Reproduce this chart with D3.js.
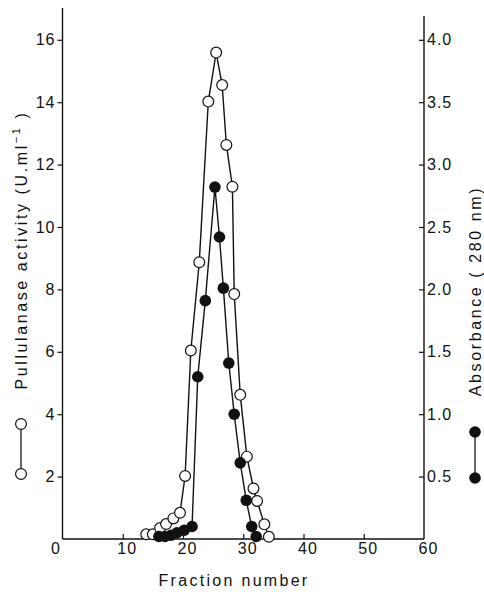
<!DOCTYPE html>
<html>
<head>
<meta charset="utf-8">
<script src="https://cdn.jsdelivr.net/npm/d3@7"></script>
<style>
  html, body { margin: 0; padding: 0; background: #fff; }
  svg { display: block; font-family: "Liberation Sans", Arial, sans-serif; }
</style>
</head>
<body>
<div id="chart"></div>
<script>
// ---- Data ----
const pullFraction = [13.9, 15.0, 16.2, 17.2, 18.4, 19.5, 20.35, 21.3, 22.7, 24.2, 25.5, 26.5, 27.2, 28.2, 28.5, 29.5, 30.6, 31.7, 32.3, 33.5, 34.25];
const pullActivity = [0.15, 0.15, 0.35, 0.48, 0.66, 0.84, 2.02, 6.04, 8.87, 14.02, 15.59, 14.55, 12.63, 11.29, 7.85, 4.62, 2.64, 1.62, 1.22, 0.47, 0.07];

const absFraction = [16.0, 17.0, 18.0, 19.0, 20.2, 21.5, 22.45, 23.7, 25.3, 26.05, 26.7, 27.6, 28.5, 29.5, 30.5, 31.4, 32.15];
const absorbance  = [0.02, 0.02, 0.03, 0.05, 0.07, 0.10, 1.30, 1.91, 2.82, 2.42, 2.01, 1.41, 1.00, 0.61, 0.31, 0.10, 0.02];

const xTicks = [0, 10, 20, 30, 40, 50, 60];
const leftTicks = [2, 4, 6, 8, 10, 12, 14, 16];
const rightTicks = [0.5, 1.0, 1.5, 2.0, 2.5, 3.0, 3.5, 4.0];

const xTitle = "Fraction number";
const leftTitle = "Pullulanase activity (U.ml";
const leftTitleSup = "\u22121";
const leftTitleEnd = " )";
const rightTitle = "Absorbance ( 280 nm)";

// ---- Layout ----
const W = 484, H = 592;
const svg = d3.select("#chart").append("svg").attr("width", W).attr("height", H);
svg.append("rect").attr("width", W).attr("height", H).attr("fill", "#fff");

const x = d3.scaleLinear().domain([0, 60]).range([62.5, 424]);
const yL = d3.scaleLinear().domain([0, 16]).range([539, 39.8]);
const yR = d3.scaleLinear().domain([0, 4]).range([539, 39.8]);

const ink = "#111";
const fontSize = 16;

// Axis lines
svg.append("line").attr("x1", x(0)).attr("x2", x(60)).attr("y1", yL(0)).attr("y2", yL(0))
  .attr("stroke", ink).attr("stroke-width", 1.4);
svg.append("line").attr("x1", x(0)).attr("x2", x(0)).attr("y1", yL(0)).attr("y2", 8)
  .attr("stroke", ink).attr("stroke-width", 1.4);
svg.append("line").attr("x1", x(60)).attr("x2", x(60)).attr("y1", yL(0)).attr("y2", 16)
  .attr("stroke", ink).attr("stroke-width", 1.4);

function styleAxis(g) {
  g.select(".domain").remove();
  g.selectAll(".tick line").attr("stroke", ink).attr("stroke-width", 1.2);
  g.selectAll(".tick text").attr("fill", ink).attr("font-size", fontSize)
    .attr("letter-spacing", "1px")
    .attr("font-family", "Liberation Sans, Arial, sans-serif");
}

// Bottom axis (ticks point inward)
const gx = svg.append("g").attr("transform", `translate(0,${yL(0)})`)
  .call(d3.axisBottom(x).tickValues(xTicks).tickSize(-5).tickSizeOuter(0).tickPadding(4).tickFormat(d3.format("d")));
styleAxis(gx);
gx.selectAll(".tick text").attr("dx", d => d === 0 ? -7 : 4);
gx.selectAll(".tick").filter(d => d === 0 || d === 60).select("line").remove();

// Left axis (ticks outward)
const gl = svg.append("g").attr("transform", `translate(${x(0)},0)`)
  .call(d3.axisLeft(yL).tickValues(leftTicks).tickSize(5).tickSizeOuter(0).tickPadding(2).tickFormat(d3.format("d")));
styleAxis(gl);

// Right axis (ticks inward)
const gr = svg.append("g").attr("transform", `translate(${x(60)},0)`)
  .call(d3.axisRight(yR).tickValues(rightTicks).tickSize(-5).tickSizeOuter(0).tickPadding(3).tickFormat(d3.format(".1f")));
styleAxis(gr);

// Titles
svg.append("text").attr("x", 234).attr("y", 586).attr("text-anchor", "middle")
  .attr("font-size", fontSize).attr("letter-spacing", "2.3px").attr("fill", ink).text(xTitle);

const lt = svg.append("text").attr("transform", "translate(27,250) rotate(-90)")
  .attr("text-anchor", "middle").attr("font-size", fontSize).attr("letter-spacing", "2.6px").attr("fill", ink);
lt.append("tspan").text(leftTitle);
lt.append("tspan").attr("font-size", 11).attr("dy", -7).text(leftTitleSup);
lt.append("tspan").attr("dy", 7).text(leftTitleEnd);

svg.append("text").attr("transform", "translate(481,291) rotate(-90)")
  .attr("text-anchor", "middle").attr("font-size", fontSize).attr("letter-spacing", "2.6px").attr("fill", ink)
  .text(rightTitle);

// Series lines
const pullData = pullFraction.map((f, i) => ({ f, v: pullActivity[i] }));
const absData = absFraction.map((f, i) => ({ f, v: absorbance[i] }));

svg.append("path").datum(pullData)
  .attr("d", d3.line().x(d => x(d.f)).y(d => yL(d.v)))
  .attr("fill", "none").attr("stroke", ink).attr("stroke-width", 1.4);
svg.append("path").datum(absData)
  .attr("d", d3.line().x(d => x(d.f)).y(d => yR(d.v)))
  .attr("fill", "none").attr("stroke", ink).attr("stroke-width", 1.4);

svg.append("g").selectAll("circle").data(pullData).join("circle")
  .attr("cx", d => x(d.f)).attr("cy", d => yL(d.v)).attr("r", 5.4)
  .attr("fill", "#fff").attr("stroke", ink).attr("stroke-width", 1.2);
svg.append("g").selectAll("circle").data(absData).join("circle")
  .attr("cx", d => x(d.f)).attr("cy", d => yR(d.v)).attr("r", 5.8)
  .attr("fill", ink);

// Legend keys
const legOpen = [{ x: 21, y: 424 }, { x: 21, y: 474 }];
svg.append("line").attr("x1", 21).attr("x2", 21).attr("y1", 424).attr("y2", 474)
  .attr("stroke", ink).attr("stroke-width", 1.3);
svg.append("g").selectAll("circle").data(legOpen).join("circle")
  .attr("cx", d => d.x).attr("cy", d => d.y).attr("r", 5.4)
  .attr("fill", "#fff").attr("stroke", ink).attr("stroke-width", 1.2);

const legFilled = [{ x: 475, y: 432 }, { x: 475, y: 478 }];
svg.append("line").attr("x1", 475).attr("x2", 475).attr("y1", 432).attr("y2", 478)
  .attr("stroke", ink).attr("stroke-width", 1.3);
svg.append("g").selectAll("circle").data(legFilled).join("circle")
  .attr("cx", d => d.x).attr("cy", d => d.y).attr("r", 5.8)
  .attr("fill", ink);
</script>
</body>
</html>
